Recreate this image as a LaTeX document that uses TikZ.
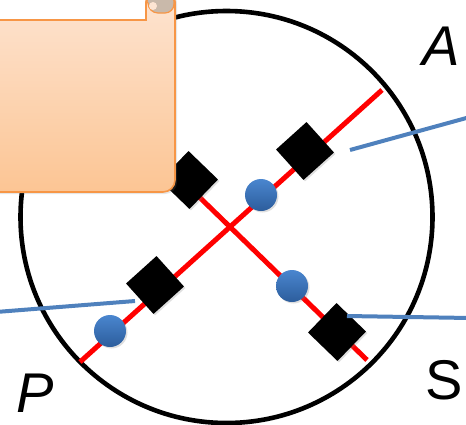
\documentclass[tikz,border=0pt]{standalone}
\usepackage{fontspec}
\setsansfont{Liberation Sans}
\usetikzlibrary{shadows}
\definecolor{rodred}{HTML}{FF0000}
\definecolor{steel}{HTML}{4F81BD}
\definecolor{ball}{HTML}{4A86CF}
\definecolor{balldark}{HTML}{2C5D9C}
\definecolor{paper}{HTML}{FDE5D3}
\definecolor{paperdark}{HTML}{FCC594}
\definecolor{paperedge}{HTML}{F79646}
\definecolor{curl}{HTML}{C9B9AA}

\begin{document}
\begin{tikzpicture}[x=1pt,y=-1pt,
  block/.style={fill=black,inner sep=0pt,minimum size=41pt,
    drop shadow={opacity=.25,shadow xshift=1.5pt,shadow yshift=-1.5pt}},
  bead/.style={circle,inner sep=0pt,minimum size=32pt,top color=ball,bottom color=balldark,
    drop shadow={opacity=.25,shadow xshift=1.5pt,shadow yshift=-1.5pt}},
  rod/.style={rodred,line width=5pt},
  wire/.style={steel,line width=4pt},
  letter/.style={inner sep=0pt,font=\sffamily\fontsize{56}{56}\selectfont}]
\useasboundingbox (0,0) rectangle (466,424);
\node[circle,draw=black,line width=4.6pt,minimum size=412pt,inner sep=0pt] (ring) at (226.5,217) {};
\coordinate (endA) at (382,90);
\coordinate (endP) at (80,362);
\coordinate (endS) at (367,360);
\coordinate (endQ) at (120,120);
\draw[rod] (endP) -- (endA);
\draw[rod] (endQ) -- (endS);
\node[block,rotate=42] (blkA) at (305,151) {};
\node[block,rotate=42] (blkP) at (155,285) {};
\node[block,rotate=46] (blkS) at (337,332) {};
\node[block,rotate=46] (blkQ) at (189,180) {};
\node[bead] (beadA) at (261,195) {};
\node[bead] (beadP) at (110,331) {};
\node[bead] (beadS) at (292,286) {};
\coordinate (tipA) at (350,150);
\coordinate (farA) at (470,117);
\coordinate (tipP) at (135,301);
\coordinate (farP) at (-4,312);
\coordinate (tipS) at (347,316);
\coordinate (farS) at (470,318);
\draw[wire] (tipA) -- (farA);
\draw[wire] (tipP) -- (farP);
\draw[wire] (tipS) -- (farS);
\shade[top color=paper,bottom color=paperdark,draw=paperedge,line width=1.6pt,
  drop shadow={opacity=.2,shadow xshift=2pt,shadow yshift=-2pt}]
  (-10,192) -- (-10,20) -- (146,20) -- (146,2) arc[start angle=180,end angle=360,radius=14.5]
  -- (175,180) arc[start angle=0,end angle=90,radius=12] -- cycle;
\fill[curl,draw=paperedge,line width=1.2pt] (147,2) arc[start angle=180,end angle=360,radius=13.5]
  -- (174,4) arc[start angle=0,end angle=90,radius=9] -- (158,13) arc[start angle=90,end angle=180,radius=10] -- cycle;
\fill[paper] (153,6) circle (4);
\draw[paperedge,line width=1.2pt] (146,12) -- (146,20);
\node[letter] (labA) at (441,46) {\itshape A};
\node[letter] (labP) at (35,393) {\itshape P};
\node[letter] (labS) at (444,380) {S};
\end{tikzpicture}
\end{document}
